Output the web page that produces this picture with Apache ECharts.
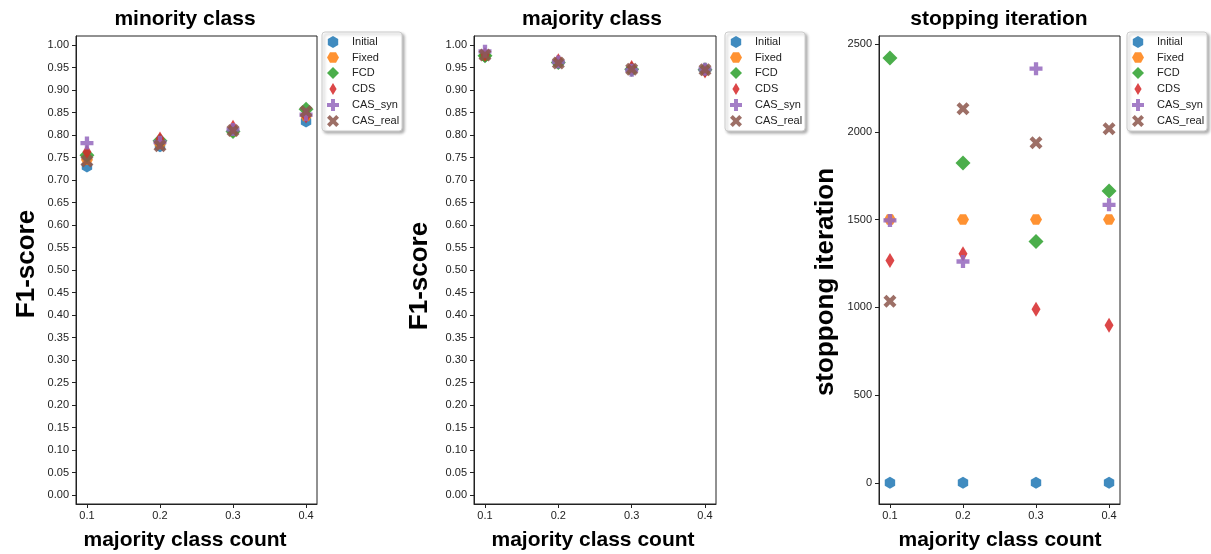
<!DOCTYPE html>
<html>
<head>
<meta charset="utf-8">
<script src="https://cdn.jsdelivr.net/npm/echarts@6/dist/echarts.min.js"></script>
<style>
html,body{margin:0;padding:0;background:#fff;}
#chart{width:1211px;height:554px;}
</style>
</head>
<body>
<div id="chart"></div>
<script>
// ---- data ----
const xValues = [0.1, 0.2, 0.3, 0.4];
const methods = ['Initial', 'Fixed', 'FCD', 'CDS', 'CAS_syn', 'CAS_real'];

const minorityInitial = [0.730, 0.775, 0.810, 0.830];
const minorityFixed   = [0.745, 0.780, 0.808, 0.842];
const minorityFCD     = [0.755, 0.787, 0.808, 0.857];
const minorityCDS     = [0.762, 0.791, 0.817, 0.842];
const minorityCASsyn  = [0.782, 0.784, 0.812, 0.845];
const minorityCASreal = [0.742, 0.776, 0.810, 0.852];

const majorityInitial = [0.975, 0.960, 0.945, 0.944];
const majorityFixed   = [0.976, 0.961, 0.946, 0.944];
const majorityFCD     = [0.976, 0.961, 0.946, 0.945];
const majorityCDS     = [0.979, 0.965, 0.950, 0.942];
const majorityCASsyn  = [0.986, 0.962, 0.944, 0.946];
const majorityCASreal = [0.978, 0.960, 0.946, 0.945];

const stopInitial = [0, 0, 0, 0];
const stopFixed   = [1500, 1500, 1500, 1500];
const stopFCD     = [2420, 1822, 1375, 1663];
const stopCDS     = [1267, 1305, 989, 898];
const stopCASsyn  = [1495, 1261, 2360, 1584];
const stopCASreal = [1034, 2132, 1937, 2017];

const xTicks = [0.1, 0.2, 0.3, 0.4];
const f1Ticks = [0, 0.05, 0.10, 0.15, 0.20, 0.25, 0.30, 0.35, 0.40, 0.45, 0.50,
                 0.55, 0.60, 0.65, 0.70, 0.75, 0.80, 0.85, 0.90, 0.95, 1.00];
const iterTicks = [0, 500, 1000, 1500, 2000, 2500];

const panelTitles = ['minority class', 'majority class', 'stopping iteration'];
const yLabels = ['F1-score', 'F1-score', 'stoppong iteration'];
const xLabel = 'majority class count';

// ---- styles ----
const colors = ['#1f77b4', '#ff7f0e', '#2ca02c', '#d62728', '#9467bd', '#8c564b'];
const symbols = [
  'path://M0,-10 L8.66,-5 L8.66,5 L0,10 L-8.66,5 L-8.66,-5 Z',
  'path://M-10,0 L-5,-8.66 L5,-8.66 L10,0 L5,8.66 L-5,8.66 Z',
  'diamond',
  'path://M0,-10 L6,0 L0,10 L-6,0 Z',
  'path://M-3.3,-10 L3.3,-10 L3.3,-3.3 L10,-3.3 L10,3.3 L3.3,3.3 L3.3,10 L-3.3,10 L-3.3,3.3 L-10,3.3 L-10,-3.3 L-3.3,-3.3 Z',
  'path://M4.95,-9.19 L9.19,-4.95 L4.24,0 L9.19,4.95 L4.95,9.19 L0,4.24 L-4.95,9.19 L-9.19,4.95 L-4.24,0 L-9.19,-4.95 L-4.95,-9.19 L0,-4.24 Z'
];
const symbolSizes = [12, 12, 15, 15, 13, 13];

const panelData = [
  [minorityInitial, minorityFixed, minorityFCD, minorityCDS, minorityCASsyn, minorityCASreal],
  [majorityInitial, majorityFixed, majorityFCD, majorityCDS, majorityCASsyn, majorityCASreal],
  [stopInitial, stopFixed, stopFCD, stopCDS, stopCASsyn, stopCASreal]
];

const grids = [
  {left: 76, top: 36, width: 241, height: 468},
  {left: 474, top: 36, width: 242, height: 468},
  {left: 879, top: 36, width: 241, height: 468}
];
const legendLeft = [322, 725, 1127];
const titleX = [185, 592, 999];
const xLabelX = [185, 593, 1000];
const yLabelPos = [[27, 264], [420, 276], [826, 282]];

const fontFam = '"Liberation Sans", Arial, sans-serif';
const tickFont = {fontSize: 11, color: '#222', fontFamily: fontFam};

const option = {
  backgroundColor: '#fff',
  animation: false,
  grid: grids.map(g => Object.assign({show: true, borderColor: '#222', borderWidth: 1, containLabel: false}, g)),
  xAxis: grids.map((g, i) => ({
    type: 'value', gridIndex: i, min: 0.085, max: 0.415,
    axisLine: {show: true, onZero: false, lineStyle: {color: '#222', width: 1}},
    axisTick: {show: true, length: 4, lineStyle: {color: '#222'}, customValues: xTicks},
    axisLabel: Object.assign({show: true, margin: 6, customValues: xTicks, formatter: v => v.toFixed(1)}, tickFont),
    splitLine: {show: false}
  })),
  yAxis: grids.map((g, i) => {
    const isIter = i === 2;
    const ticks = isIter ? iterTicks : f1Ticks;
    return {
      type: 'value', gridIndex: i,
      min: isIter ? -121 : -0.02, max: isIter ? 2546 : 1.02,
      axisLine: {show: true, onZero: false, lineStyle: {color: '#222', width: 1}},
      axisTick: {show: true, length: 4, lineStyle: {color: '#222'}, customValues: ticks},
      axisLabel: Object.assign({show: true, margin: 7, customValues: ticks,
        formatter: v => isIter ? String(Math.round(v)) : v.toFixed(2)}, tickFont),
      splitLine: {show: false}
    };
  }),
  legend: legendLeft.map(l => ({
    data: methods.map((n, m) => ({name: n, icon: symbols[m]})),
    orient: 'vertical', left: l, top: 32,
    padding: [4, 3, 4, 5], itemWidth: 12, itemHeight: 12, itemGap: 4,
    symbolKeepAspect: true,
    textStyle: {fontSize: 11, color: '#222', fontFamily: fontFam, padding: [0, 0, 0, 8]},
    backgroundColor: '#fff', borderColor: '#ccc', borderWidth: 1, borderRadius: 3,
    shadowBlur: 3, shadowColor: 'rgba(0,0,0,0.3)', shadowOffsetX: 2, shadowOffsetY: 2,
    selectedMode: false
  })),
  series: [],
  graphic: []
};

panelData.forEach((arrs, p) => {
  arrs.forEach((vals, m) => {
    option.series.push({
      type: 'scatter', name: methods[m], xAxisIndex: p, yAxisIndex: p,
      data: xValues.map((x, k) => [x, vals[k]]),
      symbol: symbols[m], symbolSize: symbolSizes[m], symbolKeepAspect: true,
      itemStyle: {color: colors[m], opacity: 0.85},
      emphasis: {disabled: true}
    });
  });
  option.graphic.push({
    type: 'text', x: titleX[p], y: 19,
    style: {text: panelTitles[p], font: 'bold 21px ' + fontFam, fill: '#000', textAlign: 'center', textVerticalAlign: 'middle'}
  });
  option.graphic.push({
    type: 'text', x: xLabelX[p], y: 540,
    style: {text: xLabel, font: 'bold 21px ' + fontFam, fill: '#000', textAlign: 'center', textVerticalAlign: 'middle'}
  });
  option.graphic.push({
    type: 'text', x: yLabelPos[p][0], y: yLabelPos[p][1], rotation: Math.PI / 2,
    style: {text: yLabels[p], font: 'bold 26px ' + fontFam, fill: '#000', textAlign: 'center', textVerticalAlign: 'middle'}
  });
});

const chart = echarts.init(document.getElementById('chart'), null, {renderer: 'canvas'});
chart.setOption(option);
</script>
</body>
</html>
